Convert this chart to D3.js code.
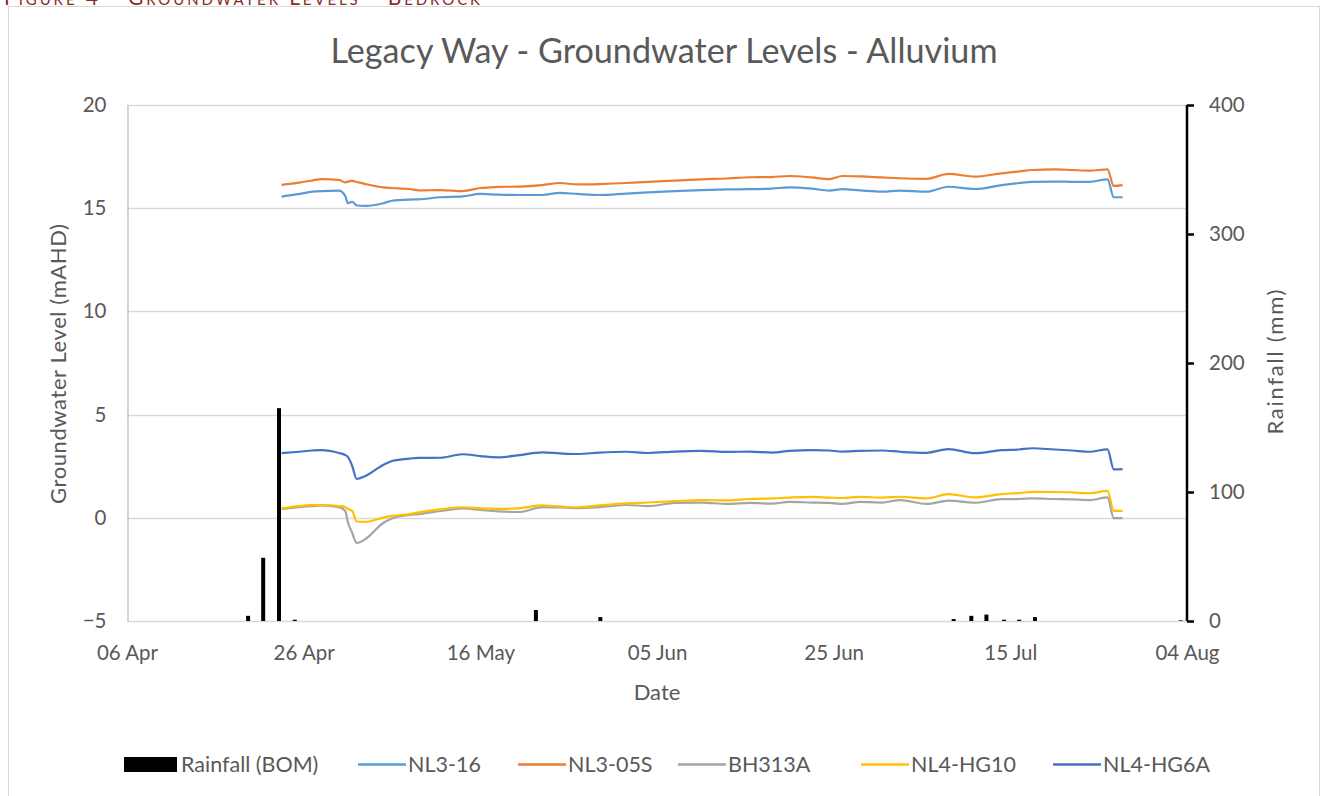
<!DOCTYPE html>
<html>
<head>
<meta charset="utf-8">
<script src="https://cdn.jsdelivr.net/npm/d3@7/dist/d3.min.js"></script>
<style>
  html, body { margin: 0; padding: 0; background: #fff; }
  svg { display: block; font-family: Lato, "Open Sans", sans-serif; }
</style>
</head>
<body>
<svg id="chart" width="1328" height="796"></svg>
<script>
// ---------------- DATA ----------------
const title = "Legacy Way - Groundwater Levels - Alluvium";
const headerText = "Figure 4 - Groundwater Levels - Bedrock";
const xTickLabels = ["06 Apr", "26 Apr", "16 May", "05 Jun", "25 Jun", "15 Jul", "04 Aug"];
const xTickDates = ["2015-04-06 00:00", "2015-04-26 00:00", "2015-05-16 00:00", "2015-06-05 00:00", "2015-06-25 00:00", "2015-07-15 00:00", "2015-08-04 00:00"];
const leftTicks = [-5, 0, 5, 10, 15, 20];
const rightTicks = [0, 100, 200, 300, 400];

const rainDates = ["2015-04-19 17:00", "2015-04-21 10:00", "2015-04-23 05:00", "2015-04-25 00:00",
  "2015-05-22 07:00", "2015-05-29 14:00", "2015-07-08 14:00", "2015-07-10 14:00", "2015-07-12 07:00",
  "2015-07-14 07:00", "2015-07-16 00:00", "2015-07-17 19:00", "2015-08-03 07:00"];
const rainValues = [4, 49, 165, 1, 8.5, 3, 1.5, 4, 5, 1, 1, 3, 0.5];

const gwDates = ["2015-04-23 12:00", "2015-04-25 12:00", "2015-04-27 00:00", "2015-04-28 00:00", "2015-04-30 00:00",
  "2015-04-30 17:00", "2015-05-01 00:00", "2015-05-01 12:00", "2015-05-02 00:00", "2015-05-03 00:00",
  "2015-05-05 00:00", "2015-05-06 00:00", "2015-05-08 00:00", "2015-05-09 00:00", "2015-05-11 12:00",
  "2015-05-14 00:00", "2015-05-16 00:00", "2015-05-18 00:00", "2015-05-20 12:00", "2015-05-23 00:00",
  "2015-05-25 00:00", "2015-05-27 00:00", "2015-05-29 12:00", "2015-06-01 12:00", "2015-06-04 00:00",
  "2015-06-07 00:00", "2015-06-10 00:00", "2015-06-13 00:00", "2015-06-15 12:00", "2015-06-18 00:00",
  "2015-06-20 00:00", "2015-06-22 12:00", "2015-06-24 12:00", "2015-06-26 00:00", "2015-06-28 00:00",
  "2015-06-30 12:00", "2015-07-02 12:00", "2015-07-05 12:00", "2015-07-08 00:00", "2015-07-11 00:00",
  "2015-07-14 00:00", "2015-07-16 00:00", "2015-07-17 12:00", "2015-07-20 00:00", "2015-07-22 00:00",
  "2015-07-24 00:00", "2015-07-26 00:00", "2015-07-26 17:00", "2015-07-27 17:00"];

const nl316 = [15.56, 15.69, 15.80, 15.83, 15.85, 15.59, 15.25, 15.31, 15.13, 15.11,
  15.24, 15.36, 15.42, 15.43, 15.53, 15.57, 15.69, 15.66, 15.64, 15.64,
  15.74, 15.69, 15.64, 15.71, 15.77, 15.83, 15.88, 15.91, 15.92, 15.95,
  16.01, 15.95, 15.85, 15.92, 15.86, 15.80, 15.85, 15.80, 16.04, 15.93,
  16.12, 16.22, 16.28, 16.29, 16.28, 16.28, 16.40, 15.53, 15.53];
const nl305s = [16.13, 16.24, 16.34, 16.41, 16.37, 16.25, 16.29, 16.32, 16.27, 16.17,
  16.01, 15.98, 15.93, 15.86, 15.88, 15.83, 15.98, 16.03, 16.05, 16.12,
  16.22, 16.15, 16.17, 16.22, 16.28, 16.34, 16.40, 16.44, 16.50, 16.51,
  16.56, 16.49, 16.41, 16.56, 16.54, 16.49, 16.45, 16.42, 16.66, 16.53,
  16.69, 16.78, 16.85, 16.88, 16.85, 16.82, 16.88, 16.08, 16.12];
const bh313a = [0.43, 0.52, 0.57, 0.60, 0.52, 0.33, -0.20, -0.74, -1.22, -1.03,
  -0.25, -0.03, 0.14, 0.18, 0.33, 0.45, 0.38, 0.31, 0.28, 0.52,
  0.50, 0.47, 0.52, 0.62, 0.57, 0.72, 0.74, 0.67, 0.72, 0.69,
  0.77, 0.74, 0.72, 0.67, 0.77, 0.74, 0.86, 0.67, 0.83, 0.73,
  0.90, 0.91, 0.94, 0.91, 0.89, 0.86, 0.99, -0.02, -0.02];
const nl4hg10 = [0.46, 0.57, 0.61, 0.62, 0.57, 0.52, 0.43, 0.33, -0.18, -0.20,
  0.01, 0.09, 0.18, 0.26, 0.41, 0.51, 0.46, 0.43, 0.47, 0.60,
  0.55, 0.51, 0.60, 0.70, 0.74, 0.81, 0.86, 0.84, 0.91, 0.94,
  0.98, 1.01, 0.98, 0.96, 1.01, 0.98, 1.02, 0.94, 1.15, 0.99,
  1.15, 1.20, 1.26, 1.25, 1.23, 1.19, 1.30, 0.34, 0.34];
const nl4hg6a = [3.13, 3.20, 3.26, 3.28, 3.14, 3.04, 2.95, 2.51, 1.88, 2.03,
  2.56, 2.75, 2.87, 2.90, 2.91, 3.08, 2.99, 2.93, 3.04, 3.17,
  3.12, 3.09, 3.16, 3.20, 3.14, 3.21, 3.24, 3.19, 3.21, 3.16,
  3.24, 3.28, 3.26, 3.21, 3.24, 3.26, 3.20, 3.15, 3.33, 3.13,
  3.28, 3.31, 3.37, 3.31, 3.26, 3.20, 3.32, 2.35, 2.36];

const seriesNames = ["NL3-16", "NL3-05S", "BH313A", "NL4-HG10", "NL4-HG6A"];
const seriesValues = [nl316, nl305s, bh313a, nl4hg10, nl4hg6a];
const seriesColors = ["#5B9BD5", "#ED7D31", "#A5A5A5", "#FFC000", "#4472C4"];

// ---------------- CHART ----------------
const parse = d3.timeParse("%Y-%m-%d %H:%M");
const svg = d3.select("#chart");
const textColor = "#595959";
const gridColor = "#d9d9d9";
const tickFont = 20.5;
const m = { left: 127, right: 1187, top: 105, bottom: 621 };

// header (cut off at top, as in the source page)
svg.append("text").attr("x", 4).attr("y", 5)
  .attr("fill", "#8B2A1E").attr("font-size", 21).style("font-variant", "small-caps")
  .attr("textLength", 476).attr("lengthAdjust", "spacing").text(headerText);

// frame
svg.append("rect").attr("x", 8.5).attr("y", 6.5).attr("width", 1311).attr("height", 800)
  .attr("fill", "#fff").attr("stroke", gridColor);

const x = d3.scaleTime().domain([parse(xTickDates[0]), parse(xTickDates[xTickDates.length - 1])]).range([m.left, m.right]);
const yL = d3.scaleLinear().domain([-5, 20]).range([m.bottom, m.top]);
const yR = d3.scaleLinear().domain([0, 400]).range([m.bottom, m.top]);

// gridlines
svg.append("g").selectAll("line").data(leftTicks).join("line")
  .attr("x1", m.left).attr("x2", m.right)
  .attr("y1", d => Math.round(yL(d)) + 0.5).attr("y2", d => Math.round(yL(d)) + 0.5)
  .attr("stroke", gridColor).attr("stroke-width", 1.3);

// left axis
const gL = svg.append("g").attr("transform", `translate(${m.left + 0.5},0)`)
  .call(d3.axisLeft(yL).tickValues(leftTicks).tickSize(0).tickPadding(21));
gL.select(".domain").attr("stroke", "#bfbfbf").attr("stroke-width", 1.3);
gL.selectAll("text").attr("fill", textColor).attr("font-size", tickFont).attr("font-family", "Lato, sans-serif");

// x axis
const gX = svg.append("g").attr("transform", `translate(0,${m.bottom})`)
  .call(d3.axisBottom(x).tickValues(xTickDates.map(parse)).tickFormat((d, i) => xTickLabels[i]).tickSize(0).tickPadding(24));
gX.select(".domain").remove();
gX.selectAll("text").attr("fill", textColor).attr("font-size", tickFont).attr("font-family", "Lato, sans-serif");

// right axis
const gR = svg.append("g").attr("transform", `translate(${m.right},0)`)
  .call(d3.axisRight(yR).tickValues(rightTicks).tickSize(7).tickSizeOuter(0).tickPadding(15));
gR.select(".domain").attr("stroke", "#000").attr("stroke-width", 2.5).attr("d", `M0,${m.top}V${m.bottom}`);
gR.selectAll(".tick line").attr("stroke", "#000").attr("stroke-width", 2.5);
gR.selectAll("text").attr("fill", textColor).attr("font-size", tickFont).attr("font-family", "Lato, sans-serif");

// rainfall bars
svg.append("g").selectAll("rect").data(rainDates.map((d, i) => ({ t: parse(d), v: rainValues[i] }))).join("rect")
  .attr("x", d => x(d.t) - 2).attr("width", 4)
  .attr("y", d => yR(d.v)).attr("height", d => yR(0) - yR(d.v))
  .attr("fill", "#000");

// groundwater lines
const line = d3.line().x(d => x(d.t)).y(d => yL(d.v)).curve(d3.curveMonotoneX);
seriesValues.forEach((vals, si) => {
  const pts = gwDates.map((d, i) => ({ t: parse(d), v: vals[i] }));
  svg.append("path").datum(pts).attr("d", line)
    .attr("fill", "none").attr("stroke", seriesColors[si]).attr("stroke-width", 2.2)
    .attr("stroke-linejoin", "round");
});

// title
svg.append("text").attr("x", 664).attr("y", 63).attr("text-anchor", "middle")
  .attr("fill", textColor).attr("font-size", 34)
  .attr("textLength", 667).attr("lengthAdjust", "spacingAndGlyphs").text(title);

// axis titles
svg.append("text").attr("transform", "translate(66,364) rotate(-90)").attr("text-anchor", "middle")
  .attr("fill", textColor).attr("font-size", 22)
  .attr("textLength", 280).attr("lengthAdjust", "spacing").text("Groundwater Level (mAHD)");
svg.append("text").attr("transform", "translate(1283,362) rotate(-90)").attr("text-anchor", "middle")
  .attr("fill", textColor).attr("font-size", 22)
  .attr("textLength", 145).attr("lengthAdjust", "spacing").text("Rainfall (mm)");
svg.append("text").attr("x", 657).attr("y", 700).attr("text-anchor", "middle")
  .attr("fill", textColor).attr("font-size", 22).text("Date");

// legend
const legend = svg.append("g");
legend.append("rect").attr("x", 124).attr("y", 757).attr("width", 53).attr("height", 15).attr("fill", "#000");
legend.append("text").attr("x", 181).attr("y", 772).attr("fill", textColor).attr("font-size", 21.5).text("Rainfall (BOM)");
const legX = [358, 518, 678, 861, 1053];
seriesNames.forEach((n, i) => {
  legend.append("line").attr("x1", legX[i]).attr("x2", legX[i] + 48).attr("y1", 764.5).attr("y2", 764.5)
    .attr("stroke", seriesColors[i]).attr("stroke-width", 2.5);
  legend.append("text").attr("x", legX[i] + 50).attr("y", 772).attr("fill", textColor).attr("font-size", 21.5).text(n);
});
</script>
</body>
</html>
